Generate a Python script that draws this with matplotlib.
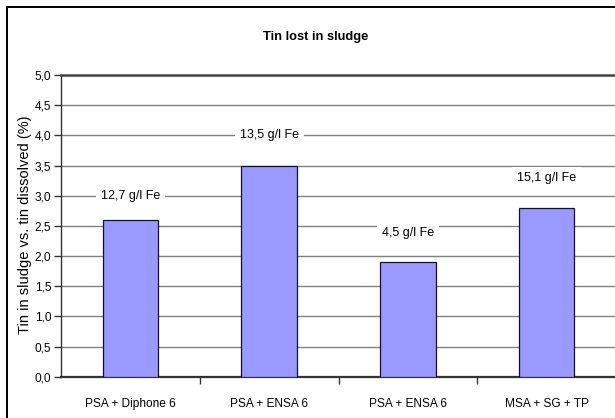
import matplotlib
matplotlib.use("Agg")
import matplotlib.pyplot as plt
from matplotlib.patches import Rectangle
from matplotlib.ticker import FixedLocator, FuncFormatter

categories = ["PSA + Diphone 6", "PSA + ENSA 6", "PSA + ENSA 6", "MSA + SG + TP"]
values = [2.6, 3.5, 1.9, 2.8]
fe_labels = ["12,7 g/l Fe", "13,5 g/l Fe", "4,5 g/l Fe", "15,1 g/l Fe"]
fe_label_y = [3.0, 4.0, 2.38, 3.30]
yticks = [0.0, 0.5, 1.0, 1.5, 2.0, 2.5, 3.0, 3.5, 4.0, 4.5, 5.0]

plt.rcParams['font.family'] = ['Liberation Sans', 'DejaVu Sans']

W, H = 615, 418
fig = plt.figure(figsize=(W / 100, H / 100), dpi=100)
fig.patch.set_facecolor("white")

# outer chart border (cropped at right and bottom)
fig.patches.append(Rectangle((7 / W, -0.1), 1.2, (H - 7) / H + 0.1,
                             transform=fig.transFigure, fill=False,
                             edgecolor="black", linewidth=1.4))

ax = fig.add_axes([61 / W, (H - 376.7) / H, (616 - 61) / W, (376.7 - 75) / H])
ax.set_facecolor("white")

x = list(range(len(categories)))
ax.bar(x, values, width=0.4, color="#9999FF", edgecolor="#111133",
       linewidth=0.9, zorder=3)

ax.set_xlim(-0.5, len(categories) - 0.5)
ax.set_ylim(0, 5.0)
ax.set_yticks(yticks)
ax.yaxis.set_major_formatter(FuncFormatter(lambda v, p: f"{v:.1f}".replace(".", ",")))
ax.yaxis.grid(True, color="#808080", linewidth=1.0, zorder=0)
ax.set_axisbelow(True)

# x ticks at category boundaries, labels at centers
ax.xaxis.set_major_locator(FixedLocator([i + 0.5 for i in x[:-1]]))
ax.xaxis.set_minor_locator(FixedLocator(x))
ax.set_xticklabels([], minor=False)
ax.set_xticklabels(categories, minor=True)
ax.tick_params(axis="x", which="major", length=5, width=1, color="#333333", direction="out")
ax.tick_params(axis="x", which="minor", length=0, pad=15, labelsize=8.6)
ax.tick_params(axis="y", length=5, width=1, color="#333333", direction="out",
               labelsize=8.6, pad=2)

ax.spines["top"].set_color("#444444")
ax.spines["top"].set_linewidth(1.8)
ax.spines["bottom"].set_color("#333333")
ax.spines["bottom"].set_linewidth(1.6)
ax.spines["left"].set_color("#333333")
ax.spines["left"].set_linewidth(1.0)
ax.spines["right"].set_visible(False)

for xi, lab, ly in zip(x, fe_labels, fe_label_y):
    ax.text(xi, ly, lab, ha="center", va="center", fontsize=9, zorder=4,
            bbox=dict(facecolor="white", edgecolor="none", pad=3.5))

ax.set_ylabel("Tin in sludge vs. tin dissolved (%)", fontsize=10.5)
ax.yaxis.set_label_coords(-0.052, 0.505)
fig.text(316 / W, 1 - 37 / H, "Tin lost in sludge", ha="center", va="center",
         fontsize=9.3, fontweight="bold")

fig.savefig("out.png", dpi=100, facecolor="white")
